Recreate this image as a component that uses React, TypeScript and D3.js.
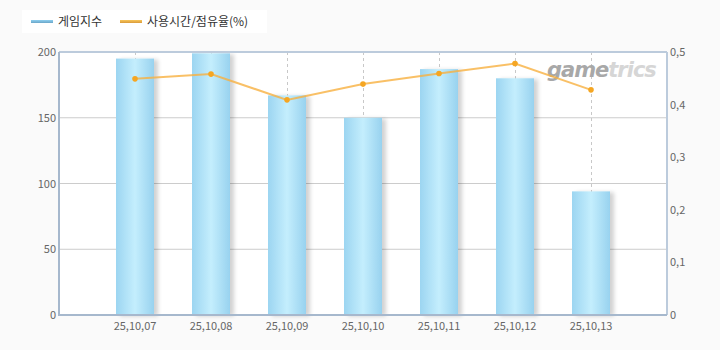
import React from "react";
import * as d3 from "d3";

const categories = ["25,10,07", "25,10,08", "25,10,09", "25,10,10", "25,10,11", "25,10,12", "25,10,13"];
const gameIndex = [195, 199, 167, 150, 187, 180, 94];
const usageShare = [0.449, 0.458, 0.409, 0.439, 0.459, 0.478, 0.428];
const leftTicks = [0, 50, 100, 150, 200];
const rightTicks = [0, 0.1, 0.2, 0.3, 0.4, 0.5];
const seriesNames = ["게임지수", "사용시간/점유율(%)"];

const W = 720;
const H = 350;
const M = { left: 59, right: 667, top: 52, bottom: 315 };

export default function App() {
  const x = d3
    .scalePoint<string>()
    .domain(categories)
    .range([M.left, M.right])
    .padding(1);
  const yL = d3.scaleLinear().domain([0, 200]).range([M.bottom, M.top]);
  const yR = d3.scaleLinear().domain([0, 0.5]).range([M.bottom, M.top]);
  const barW = 38;
  const line = d3
    .line<number>()
    .x((_, i) => x(categories[i]) as number)
    .y((d) => yR(d));
  const font = "'Noto Sans CJK KR', 'Noto Sans', sans-serif";

  return (
    <div style={{ position: "fixed", left: 0, top: 0, width: W, height: H, background: "#fafafa" }}>
      <svg width={W} height={H} style={{ display: "block" }}>
        <defs>
          <linearGradient id="barGrad" x1="0" x2="1" y1="0" y2="0">
            <stop offset="0" stopColor="#9cd5f1" />
            <stop offset="0.5" stopColor="#c4eefd" />
            <stop offset="1" stopColor="#98d2ef" />
          </linearGradient>
          <linearGradient id="legBlue" x1="0" x2="0" y1="0" y2="1">
            <stop offset="0" stopColor="#8ecff0" />
            <stop offset="1" stopColor="#6aa6c8" />
          </linearGradient>
          <linearGradient id="legOrange" x1="0" x2="0" y1="0" y2="1">
            <stop offset="0" stopColor="#f8c65a" />
            <stop offset="1" stopColor="#d99a3a" />
          </linearGradient>
          <filter id="shadow" x="-20%" y="-5%" width="160%" height="115%">
            <feGaussianBlur in="SourceAlpha" stdDeviation="2" />
            <feOffset dx="4" dy="1" result="b" />
            <feComponentTransfer>
              <feFuncA type="linear" slope="0.18" />
            </feComponentTransfer>
            <feMerge>
              <feMergeNode />
              <feMergeNode in="SourceGraphic" />
            </feMerge>
          </filter>
        </defs>

        {/* legend */}
        <rect x={22} y={10} width={245} height={23} fill="#ffffff" />
        <rect x={31} y={20} width={22} height={3} fill="url(#legBlue)" />
        <text x={58} y={26} fontSize={12} fill="#333" fontFamily={font}>
          {seriesNames[0]}
        </text>
        <rect x={120} y={20} width={22} height={3} fill="url(#legOrange)" />
        <text x={147} y={26} fontSize={12} fill="#333" fontFamily={font}>
          {seriesNames[1]}
        </text>

        {/* plot background */}
        <rect x={M.left} y={M.top} width={M.right - M.left} height={M.bottom - M.top} fill="#ffffff" />

        {/* horizontal grid */}
        {leftTicks
          .filter((t) => t > 0 && t < 200)
          .map((t) => (
            <line key={t} x1={M.left} x2={M.right} y1={yL(t)} y2={yL(t)} stroke="#cccccc" strokeWidth={1} />
          ))}
        {/* vertical dashed grid */}
        {categories.map((c) => (
          <line
            key={c}
            x1={(x(c) as number) + 0.5}
            x2={(x(c) as number) + 0.5}
            y1={M.top}
            y2={M.bottom}
            stroke="#c8c8c8"
            strokeDasharray="3,3"
          />
        ))}

        {/* watermark */}
        <text
          x={547}
          y={77}
          fontSize={21}
          fontStyle="italic"
          fontWeight="bold"
          fontFamily="'DejaVu Sans', sans-serif"
          letterSpacing={-1}
        >
          <tspan fill="#a8a8a8">game</tspan>
          <tspan fill="#d6d6d6">trics</tspan>
        </text>

        {/* bars */}
        {gameIndex.map((v, i) => {
          const cx = x(categories[i]) as number;
          return (
            <rect
              key={i}
              x={cx - barW / 2}
              y={yL(v)}
              width={barW}
              height={M.bottom - yL(v)}
              fill="url(#barGrad)"
              filter="url(#shadow)"
            />
          );
        })}

        {/* line */}
        <path d={line(usageShare) || ""} fill="none" stroke="#f7b040" strokeOpacity={0.8} strokeWidth={2} />
        {usageShare.map((v, i) => (
          <circle key={i} cx={x(categories[i]) as number} cy={yR(v)} r={2.8} fill="#f5a623" />
        ))}

        {/* frame */}
        <line x1={M.left} x2={M.right} y1={M.top} y2={M.top} stroke="#bccbdc" strokeWidth={2} />
        <line x1={M.right} x2={M.right} y1={M.top} y2={M.bottom} stroke="#bccbdc" strokeWidth={2} />
        <line x1={M.left} x2={M.left} y1={M.top} y2={M.bottom + 1} stroke="#a6b8cd" strokeWidth={2} />
        <line x1={M.left} x2={M.right} y1={M.bottom} y2={M.bottom} stroke="#a6b8cd" strokeWidth={2} />

        {/* left axis labels */}
        {leftTicks.map((t) => (
          <text
            key={t}
            x={56}
            y={yL(t) + 4}
            textAnchor="end"
            fontSize={11}
            fill="#666"
            fontFamily={font}
          >
            {String(t)}
          </text>
        ))}
        {/* right axis labels */}
        {rightTicks.map((t) => (
          <text key={t} x={670} y={yR(t) + 4} fontSize={11} fill="#666" fontFamily={font}>
            {t === 0 ? "0" : d3.format(".1f")(t).replace(".", ",")}
          </text>
        ))}
        {/* x labels */}
        {categories.map((c) => (
          <text
            key={c}
            x={x(c) as number}
            y={330}
            textAnchor="middle"
            fontSize={11}
            fill="#666"
            fontFamily={font}
          >
            {c}
          </text>
        ))}
      </svg>
    </div>
  );
}
